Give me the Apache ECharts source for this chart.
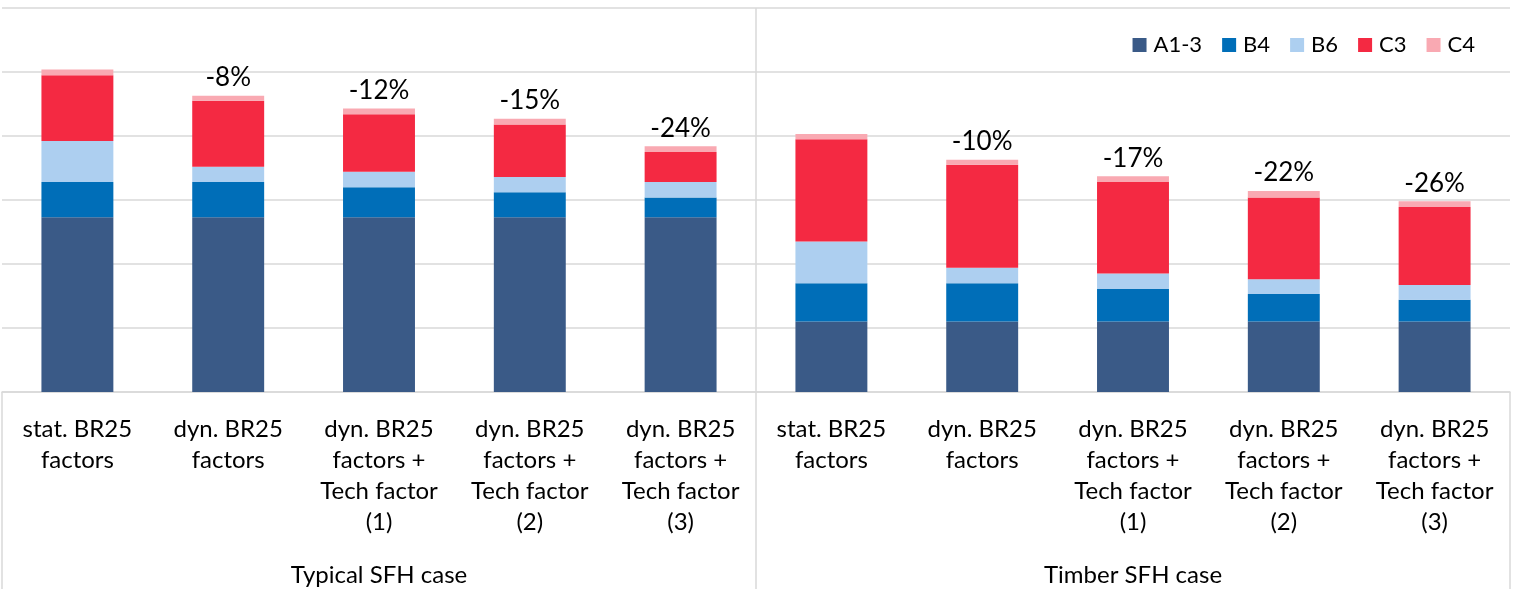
<!DOCTYPE html>
<html>
<head>
<meta charset="utf-8">
<script src="https://cdn.jsdelivr.net/npm/echarts@6/dist/echarts.min.js"></script>
<style>
html,body{margin:0;padding:0;background:#fff;}
#chart{width:1522px;height:589px;}
</style>
</head>
<body>
<div id="chart"></div>
<script>
var categories = [
  'stat. BR25\nfactors', 'dyn. BR25\nfactors', 'dyn. BR25\nfactors +\nTech factor\n(1)', 'dyn. BR25\nfactors +\nTech factor\n(2)', 'dyn. BR25\nfactors +\nTech factor\n(3)',
  'stat. BR25\nfactors', 'dyn. BR25\nfactors', 'dyn. BR25\nfactors +\nTech factor\n(1)', 'dyn. BR25\nfactors +\nTech factor\n(2)', 'dyn. BR25\nfactors +\nTech factor\n(3)'
];
var groups = ['Typical SFH case', 'Timber SFH case'];
var seriesNames = ['A1-3', 'B4', 'B6', 'C3', 'C4'];
var a13 = [273, 273, 273, 273, 273, 110, 110, 110, 110, 110];
var b4  = [55, 55, 47, 39, 31, 60, 60, 51, 43, 34];
var b6  = [64, 24, 24, 24, 24, 65, 24, 24, 23, 23];
var c3  = [103, 103, 90, 82, 47, 160, 161, 143, 128, 122];
var c4  = [9, 8, 9, 9, 9, 8, 8, 9, 10, 9];
var pctLabels = ['', '-8%', '-12%', '-15%', '-24%', '', '-10%', '-17%', '-22%', '-26%'];

var colors = ['#3A5A87', '#006EB8', '#ADCFF0', '#F42942', '#F9A9B2'];
var FONT = 'Lato';
var GRID = '#d9d9d9';

var chart = echarts.init(document.getElementById('chart'));
var dataSets = [a13, b4, b6, c3, c4];
var series = dataSets.map(function (d, i) {
  var s = {
    name: seriesNames[i],
    type: 'bar',
    stack: 'total',
    xAxisIndex: 0,
    barWidth: '47.7%',
    data: d,
    itemStyle: { color: colors[i] },
    emphasis: { disabled: true }
  };
  if (i === dataSets.length - 1) {
    s.label = {
      show: true,
      position: 'top',
      distance: 5,
      fontFamily: FONT,
      fontSize: 26,
      color: '#000',
      formatter: function (p) { return pctLabels[p.dataIndex]; }
    };
  }
  return s;
});

chart.setOption({
  animation: false,
  color: colors,
  grid: { left: 2, right: 12, top: 8, bottom: 197, containLabel: false },
  legend: {
    data: seriesNames,
    right: 42,
    top: 29,
    icon: 'rect',
    itemWidth: 14,
    itemHeight: 14,
    itemGap: 20,
    textStyle: { fontFamily: FONT, fontSize: 22, color: '#000', padding: [0, 0, 0, 2] }
  },
  xAxis: [
    {
      type: 'category',
      data: categories,
      position: 'bottom',
      axisLine: { show: true, lineStyle: { color: GRID, width: 1.5 } },
      axisTick: { show: false },
      axisLabel: {
        interval: 0,
        margin: 22,
        fontFamily: FONT,
        fontSize: 24,
        lineHeight: 31,
        color: '#000'
      },
      splitLine: { show: false }
    },
    {
      type: 'category',
      data: groups,
      position: 'bottom',
      offset: 0,
      axisLine: { show: false },
      axisTick: { show: false },
      axisLabel: { show: false },
      splitLine: {
        show: true,
        showMinLine: false,
        showMaxLine: false,
        lineStyle: { color: GRID, width: 1.5 }
      }
    },
    {
      type: 'category',
      data: groups,
      position: 'bottom',
      offset: 0,
      axisLine: { show: false },
      axisTick: { show: true, length: 197, lineStyle: { color: GRID, width: 1.5 } },
      axisLabel: {
        interval: 0,
        margin: 171,
        fontFamily: FONT,
        fontSize: 24,
        color: '#000'
      },
      splitLine: { show: false }
    }
  ],
  yAxis: {
    type: 'value',
    min: 0,
    max: 600,
    interval: 100,
    axisLabel: { show: false },
    axisLine: { show: false },
    axisTick: { show: false },
    splitLine: { show: true, lineStyle: { color: GRID, width: 1.5 } }
  },
  series: series
});
</script>
</body>
</html>
